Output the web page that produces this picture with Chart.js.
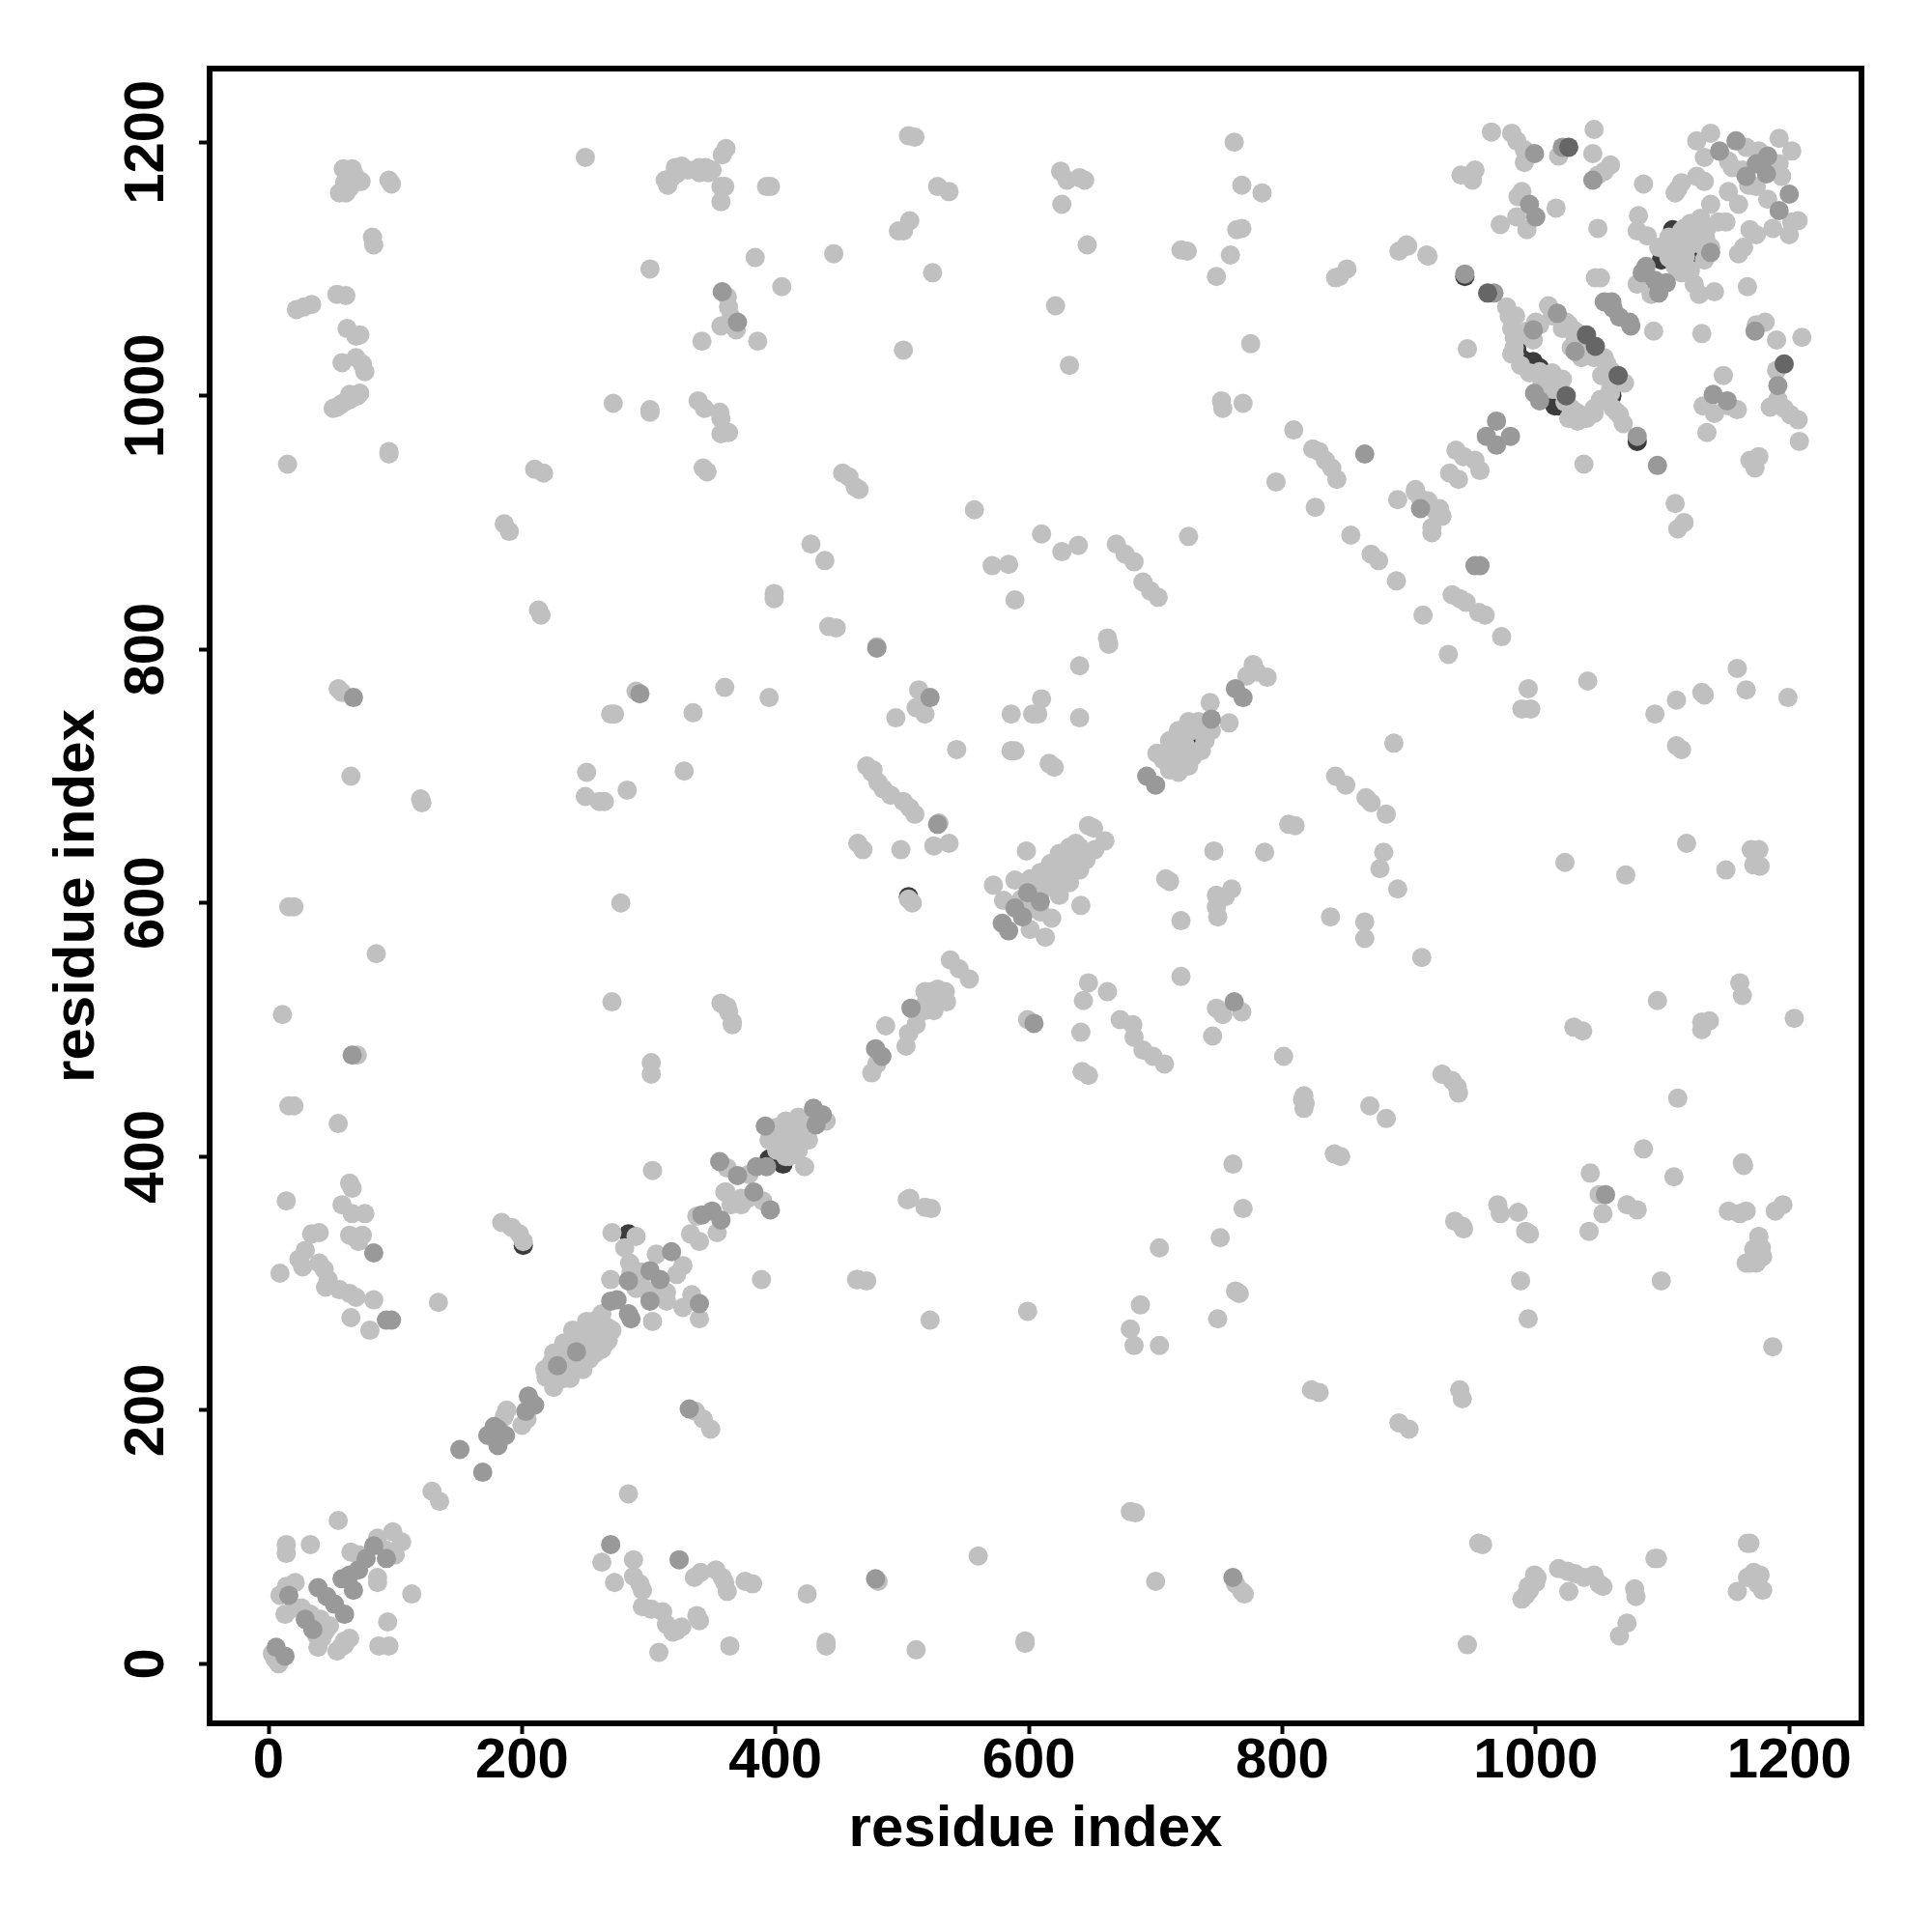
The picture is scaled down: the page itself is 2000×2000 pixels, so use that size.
<!DOCTYPE html>
<html>
<head>
<meta charset="utf-8">
<script src="https://cdn.jsdelivr.net/npm/chart.js@4"></script>
<style>
  body { margin: 0; background: #fff; }
</style>
</head>
<body>
<canvas id="myChart" width="2000" height="2000"></canvas>
<script>
const tickValues = [0, 200, 400, 600, 800, 1000, 1200];
const axisTitle = "residue index";

// contacts as [residue, residue]
// the near black ones only show as crescents behind the light dots
const darkUnderPoints = [
[284,339],[201,330],[985,1037],[989,1029],[998,1027],[1003,1022],[1012,1012],[1018,992],[1022,996],[1015,992],
[1080,964],[1108,1131],[1121,1117],[1133,1109],[1099,1107],[944,1094],[1110,1127],[1126,1113],[395,398],[401,397],[406,394],
[505,605],[722,736],[733,733],[1060,1000],[1036,1048]
];

const darkTopPoints = [
[1026,1196],[962,1081],[1196,1025],[1040,1048],[1047,1039],[1065,1016],[1024,1000]
];

const midPoints = [
[6,13],[13,6],[16,54],[29,35],[35,27],[39,60],[46,53],[52,47],[60,39],[58,67],[67,58],[64,70],[71,74],[77,83],[83,93],[93,83],
[151,169],[169,151],[173,180],[181,185],[187,180],[181,172],[205,211],[210,204],[203,199],[178,187],[185,180],
[243,246],[228,235],[270,286],[275,287],[286,272],[284,276],[340,284],[284,302],[301,310],[309,303],[301,286],[318,325],
[350,357],[357,350],[342,354],[396,358],[383,372],[370,385],[356,396],[392,424],[385,392],[393,392],[430,438],[437,433],[432,425],
[332,201],[293,765],[67,762],[66,480],[93,271],[97,271],[83,324],[270,94],[324,82],[479,67],[761,68],[370,1058],[358,1082],
[479,485],[484,479],[507,517],[599,608],[609,601],[589,596],[595,589],[579,584],[584,578],[604,505],[762,522],[522,762],
[528,662],[763,769],[769,762],[744,745],[693,700],[700,693],[865,954],[952,866],[956,866],[1055,370],
[999,1191],[1021,1196],[1045,1170],[1000,1141],[995,1151],[944,1096],[967,1081],[998,1052],[999,1002],[1003,996],
[1017,1065],[1031,1035],[1060,1074],[1061,1069],[1066,1062],[1074,1058],[1075,1055],[1054,1074],[1080,968],[1096,945],
[1173,1051],[1140,1001],[1151,996],[969,980],[980,968],[961,968],[969,961],[909,911],[1087,1102],[1084,1097],[1094,1091],
[1103,1089],[1097,1081],[1145,1193],[1158,1201],[1166,1173],[1183,1189],[1174,1183],[1182,1175],[1200,1159],[1192,1146],
[1191,1008],[1138,1113],[480,801]
];

const lightLowerLeft = [
[3,8],[8,0],[5,4],[14,94],[14,87],[33,94],[55,113],[113,55],[94,33],[87,14],[95,14],[86,68],[86,64],[9,54],[14,61],[21,64],
[13,39],[20,44],[26,44],[33,39],[41,35],[45,26],[42,20],[39,13],[54,10],[57,13],[64,20],[60,15],[65,88],[71,86],[86,99],
[98,104],[105,96],[100,86],[92,90],[129,136],[135,128],[39,26],[42,30],[38,22],[48,30],[60,18]
];

const lightDiagonal = [
[188,200],[186,195],[200,188],[204,193],[225,218],[219,226],[230,242],[223,237],[238,225],[248,232],[258,245],[266,253],[248,263],
[256,270],[263,276],[271,263],[243,253],[238,235],[263,260],[253,250],[303,270],[270,303],[285,316],[271,340],[281,328],[290,337],
[294,298],[301,291],[314,286],[327,281],[340,272],[334,291],[306,323],[327,314],[322,307],[333,339],[340,333],[354,340],[338,353],
[361,372],[373,367],[390,365],[362,391],[379,386],[406,408],[413,418],[423,415],[421,428],[408,400],[401,415],[423,392],[440,428],
[487,503],[503,487],[505,497],[523,530],[533,525],[525,520],[512,512],[511,504],[518,515],[538,555],[545,548],[553,540],[476,466],[480,473],
[572,614],[589,618],[580,602],[618,588],[601,579],[613,573],[641,598],[612,624],[622,614],[632,624],[627,639],[637,647],[645,637],
[647,661],[651,659],[660,649],[729,736],[739,733],[716,723],[708,718],[726,715],[716,705],[734,720],[706,713],[722,730],[743,758],[758,742],
[777,788],[788,778],[772,779],[780,782]
];

// filling of the fat blobs along the diagonal
const lightDiagonalFill = [
[218,232],[225,245],[233,253],[240,263],[251,270],[261,273],[233,225],[243,232],[253,240],[263,248],[268,255],[235,240],[256,260],[226,223],[268,265],
[289,298],[296,296],[307,291],[314,293],[294,309],[286,309],[290,296],[360,372],[365,362],[373,362],[378,367],
[401,423],[408,428],[418,431],[429,425],[426,413],[418,405],[411,400],[401,405],[395,413],[408,415],[418,418],
[518,530],[528,532],[535,522],[525,515],[518,520],[534,530],[523,522],
[609,624],[617,631],[624,639],[632,644],[640,644],[645,634],[640,626],[632,616],[624,606],[617,614],[612,611],[624,624],[632,634],[601,619],
[594,603],[601,596],[609,593],[652,642],[647,639],
[701,718],[711,705],[718,710],[729,715],[739,728],[744,736],[734,743],[726,743],[718,736],[711,728],[723,725],[736,720],[718,703],[726,708]
];

const lightLeftColumns = [
[15,946],[11,512],[16,440],[20,440],[16,597],[20,597],[14,365],[9,308],[24,319],[29,326],[27,313],[34,339],[40,340],[40,316],[44,311],
[47,303],[45,297],[56,295],[64,292],[69,289],[65,273],[80,263],[83,287],[58,362],[64,379],[66,375],[76,355],[66,355],[64,338],[74,338],
[71,333],[55,426],[70,480],[85,560],[65,700],[55,769],[58,766],[120,682],[121,679],[134,285],[59,1179],[66,1172],[61,1160],[56,1160],
[73,1169],[66,1179],[71,1169],[95,1170],[97,1167],[82,1125],[83,1119],[22,1068],[28,1070],[34,1072],[54,1080],[61,1079],[62,1053],
[69,1047],[72,1048],[58,1026],[69,1030],[74,1025],[76,1019],[51,990],[57,993],[64,997],[70,1000],[68,1000],[95,956],[95,954],
[186,899],[190,893],[210,942],[217,939],[213,831],[215,827],[250,1188],[301,1100],[272,994],[301,989],[301,987],[270,749],[273,749],
[290,767],[251,703],[250,684],[261,680],[265,680],[283,689],[278,600],[271,522],[184,348],[192,344],[198,339],[201,333],[337,199],[343,193],[349,185],
[357,521],[362,518],[366,504],[302,474],[302,465],[303,389],[389,303],[464,303],[472,302],[504,366],
[54,991],[60,995],[66,998],[72,1002],[64,1001],[62,1176],[68,1174],[60,1168],[64,1164]
];

const lightMiddleColumns = [
[313,1170],[318,1172],[321,1180],[326,1181],[331,1178],[340,1180],[345,1180],[350,1178],[335,750],[328,704],[339,996],[344,990],[356,987],
[357,982],[343,943],[346,940],[342,1043],[357,970],[363,971],[360,770],[360,519],[363,514],[366,506],[358,1190],[361,1195],[357,1165],
[360,1165],[357,1153],[362,1078],[363,1070],[365,1062],[357,1055],[369,1052],[386,1043],[384,1109],[393,1165],[396,1165],[405,1086],[395,762],
[399,844],[399,840],[446,1112],[428,883],[439,870],[442,818],[448,817],[453,939],[458,936],[463,928],[466,926],[505,1205],[510,1204],
[501,1130],[506,1138],[497,1130],[501,1036],[524,1097],[528,1165],[537,1161],[480,802],[495,746],[513,768],[516,757],[511,754],[518,749],
[472,708],[476,703],[481,695],[485,690],[491,685],[501,680],[506,675],[510,670],[477,705],[543,721],[529,663],[525,645],[537,647],
[465,647],[469,642],[499,642],[505,603],[508,600],[557,910],[571,866],[584,867],[589,839],[610,891],[626,877],[639,882],[646,1119],[621,1071],
[632,1024],[625,1177],[630,1170],[640,1172],[644,1170],[626,1151],[640,787],[640,746],[586,749],[603,749],[610,761],[607,749],[586,720],[589,720],
[616,710],[620,707],[662,809],[663,804],[669,883],[676,875],[683,869],[690,853],[696,846],[702,841],[726,889],[720,1115],[725,1114],[748,1094],
[759,1111],[764,1131],[768,1132],[762,1200],[768,1166],[784,1160],[775,1041],[752,996],[753,990],[769,994],[795,932],[809,973],[842,1093],
[845,1094],[851,1100],[824,958],[829,956],[834,949],[839,943],[843,934],[826,912],[854,890],[870,875],[876,870],[890,854],[891,918],[892,1114],
[898,1119],[914,1111],[905,926],[909,919],[913,914],[921,909],[926,905],[918,892],[911,827],[931,796],[934,843],[940,840],[945,837],[955,829],[960,827],[973,810],
[586,720],[598,641],[647,537],[643,523],[662,530],[599,508],[641,498],[672,508],[682,504],[683,494],[690,484],[698,479],[707,473],[642,467],[647,464],
[748,517],[768,514],[753,512],[745,495],[720,586],[708,619],[711,617],[746,641],[786,640],[748,606],[760,611],[748,597],[749,589],[755,605],[838,589],
[720,542],[801,479],[816,445],[817,438],[315,1166],[322,1175],[340,1176],[347,1176]
];

const lightLowerRight = [
[805,662],[810,661],[842,700],[850,693],[866,683],[870,679],[882,670],[880,640],[877,627],[891,611],[888,726],[865,585],[865,572],[910,557],
[994,769],[989,753],[996,753],[1041,775],[1094,749],[1111,760],[1131,766],[1133,764],[1159,785],[1166,768],[1199,762],[1111,724],[1115,721],
[1119,647],[1170,642],[1176,642],[1172,630],[1177,629],[1150,626],[1023,632],[1071,622],[1096,523],[1131,506],[1131,500],[1137,507],[1161,537],
[1163,527],[1204,509],[1030,502],[1037,499],[1112,446],[817,448],[818,442],[869,440],[882,430],[926,465],[934,460],[938,455],[939,450],[841,402],[846,400],
[761,394],[769,359],[751,336],[703,328],[763,294],[766,292],[749,272],[688,283],[680,264],[683,251],[703,251],[599,278],[522,271],[506,367],[518,360],[523,359],
[465,303],[936,349],[942,345],[943,343],[970,362],[972,355],[986,356],[992,341],[995,339],[988,302],[994,272],[1043,387],[1050,370],[1053,355],[1042,341],
[1072,362],[1080,358],[1085,406],[1109,384],[1099,302],[1163,395],[1164,393],[1152,357],[1161,355],[1166,357],[1176,337],[1177,323],[1174,316],[1169,316],[1179,321],
[1189,357],[1195,362],[1187,250],[823,216],[829,214],[940,216],[942,209],[892,190],[900,185],[680,120],[684,119],[700,65],[560,85],[425,55],[440,17],[440,14],
[511,11],[597,18],[597,16],[364,14],[308,9],[284,134],[263,80],[273,64],[288,82],[288,69],[293,63],[295,58],[295,45],[302,43],[311,41],[314,31],[319,25],[326,29],[322,26],
[338,38],[340,34],[336,68],[341,72],[353,74],[358,68],[362,57],[360,64],[376,65],[382,63],[481,65],[763,63],[768,57],[770,55],[946,15],[955,95],[958,94],
[989,51],[992,54],[997,63],[999,70],[1001,68],[994,61],[1018,75],[1025,73],[1031,71],[1026,57],[1038,68],[1046,70],[1050,63],[1053,61],[1066,22],[1072,32],[1078,59],[1079,53],
[1094,83],[1096,83],[1167,95],[1169,95],[1159,57],[1167,68],[1172,72],[1175,63],[1179,58],[1177,70],
[1172,327],[1178,328],[1171,319],[1166,316],[995,58],[1000,64]
];

const lightUpperRight = [
[965,1208],[981,1207],[985,1201],[991,1194],[991,1184],[941,1174],[952,1178],[950,1170],[1018,1189],[1046,1210],[1045,1191],[1059,1182],[1054,1177],[1049,1174],
[1085,1167],[1112,1163],[1110,1160],[1115,1168],[989,1161],[986,1157],[985,1141],[993,1131],[972,1135],[1016,1148],[1049,1132],[1081,1142],[1080,1130],[1088,1126],
[1051,1093],[1047,1093],[915,1110],[899,1118],[946,1037],[977,1070],[984,1063],[1000,1058],[985,1046],[996,1046],[983,1033],[1013,1018],[1021,1013],[1005,1010],[1013,1005],
[1032,987],[1033,980],[1046,986],[1059,1002],[1064,987],[1069,978],[1010,1071],[1024,1058],[1031,1051],[1036,1030],[1046,1030],[1054,1030],[1059,1020],[1070,1010],[1052,1016],
[1093,1051],[1131,1049],[1181,1058],[1174,1056],[1190,1044],[1210,1046],[1190,1020],[1148,1016],[1132,992],[1141,986],[1159,989],[1152,992],[1135,971],[1191,997],[1185,991],
[1196,990],[1201,985],[1207,981],[1208,964],[1110,915],[1117,900],[1112,895],[1169,949],[1173,943],[1176,952],[1038,946],[937,957],[943,952],[952,949],[956,941],[939,934],
[932,939],[905,924],[915,917],[924,911],[918,896],[1110,1124],[1117,1132],[1122,1136],[1130,1140],[1138,1151],[1134,1124],[1133,1117],[1150,1137],[1144,1137],[1102,1117],
[1112,1109],[1117,1099],[1080,1088],[1091,1080],[1125,1088],[1129,1080],[1141,1082],[1167,1086],[1160,1112],[1164,1117],[1127,1201],[1138,1207],[1133,1188],[1127,1173],[1133,1169],
[1152,1185],[1166,1196],[1192,1203],[1202,1193],[1152,1161],[1160,1151],[1163,1178],[1155,1180],[1176,1193],[1192,1183],[1194,1173],[1174,1165],[1183,1155],[1168,1166],
[1169,1131],[1174,1127],[1187,1132],[1200,1127],[1207,1138],[1202,1137],[1126,1125],[1118,1110],[1105,1125],[1122,1120]
];

// filling of the ring and of the blob in the upper right corner
const lightUpperRightFill = [
[1097,1117],[1105,1122],[1112,1122],[1117,1117],[1110,1102],[1117,1109],[1122,1119],[1127,1127],[1135,1132],[1138,1117],[1133,1107],[1122,1099],[1115,1097],[1105,1109],[1115,1130],[1124,1132],
[981,1033],[988,1024],[995,1018],[1003,1019],[1008,1013],[1016,1005],[1023,995],[1028,990],[1035,985],[1026,982],[1040,982],[1046,990],[1051,997],[1061,990],[1066,985],[1059,1005],
[979,1063],[981,1053],[983,1046],[998,1044],[1003,1056],[993,1051],[983,1038],
[1013,1063],[1021,1053],[1026,1056],[1031,1046],[1038,1043],[1044,1033],[1051,1030],[1056,1025],[1061,1015],[1046,1038],[1028,1038]
];

const lightPoints = [].concat(lightLowerLeft, lightDiagonal, lightDiagonalFill, lightLeftColumns, lightMiddleColumns, lightLowerRight, lightUpperRight, lightUpperRightFill);

function toXY(pairs) {
    return pairs.map((p) => ({ x: p[0], y: p[1] }));
}

// R style closed box round the plot
const boxPlugin = {
    id: "box",
    afterDraw(chart) {
        const a = chart.chartArea;
        const ctx = chart.ctx;
        ctx.save();
        ctx.strokeStyle = "#000";
        ctx.lineWidth = 6;
        ctx.strokeRect(a.left, a.top, a.right - a.left, a.bottom - a.top);
        ctx.restore();
    }
};

const tickFont = { family: "'Liberation Sans'", size: 58, weight: "bold" };
const titleFont = { family: "'Liberation Sans'", size: 60, weight: "bold" };

function setTicks(scale) {
    scale.ticks = tickValues.map((v) => ({ value: v }));
}

const plainLabel = (v) => String(v);

const ctx = document.getElementById("myChart").getContext("2d");

// first dataset ends up on top
new Chart(ctx, {
    type: "scatter",
    data: {
        datasets: [
            { label: "dark top", data: toXY(darkTopPoints), backgroundColor: "#666666" },
            { label: "mid", data: toXY(midPoints), backgroundColor: "#999999" },
            { label: "light", data: toXY(lightPoints), backgroundColor: "#c0c0c0" },
            { label: "dark under", data: toXY(darkUnderPoints), backgroundColor: "#3c3c3c" }
        ]
    },
    options: {
        responsive: false,
        animation: false,
        layout: { padding: { top: 71, right: 73 } },
        elements: { point: { radius: 10, borderWidth: 0 } },
        plugins: { legend: { display: false }, tooltip: { enabled: false } },
        scales: {
            x: {
                type: "linear",
                min: -46.5,
                max: 1257,
                afterBuildTicks: setTicks,
                afterFit(scale) { scale.height = 216; },
                grid: { drawOnChartArea: false, tickLength: 11, tickWidth: 4, tickColor: "#000" },
                border: { display: false },
                ticks: { color: "#000", font: tickFont, padding: -6, maxRotation: 0, autoSkip: false, callback: plainLabel },
                title: { display: true, text: axisTitle, color: "#000", font: titleFont, padding: { top: 0, bottom: 70 } }
            },
            y: {
                type: "linear",
                min: -47,
                max: 1258,
                afterBuildTicks: setTicks,
                afterFit(scale) { scale.width = 217; },
                grid: { drawOnChartArea: false, tickLength: 11, tickWidth: 4, tickColor: "#000" },
                border: { display: false },
                ticks: { color: "#000", font: tickFont, padding: -12, minRotation: 90, maxRotation: 90, crossAlign: "center", autoSkip: false, callback: plainLabel },
                title: { display: true, text: axisTitle, color: "#000", font: titleFont, padding: { top: 44, bottom: 0 } }
            }
        }
    },
    plugins: [boxPlugin]
});
</script>
</body>
</html>
